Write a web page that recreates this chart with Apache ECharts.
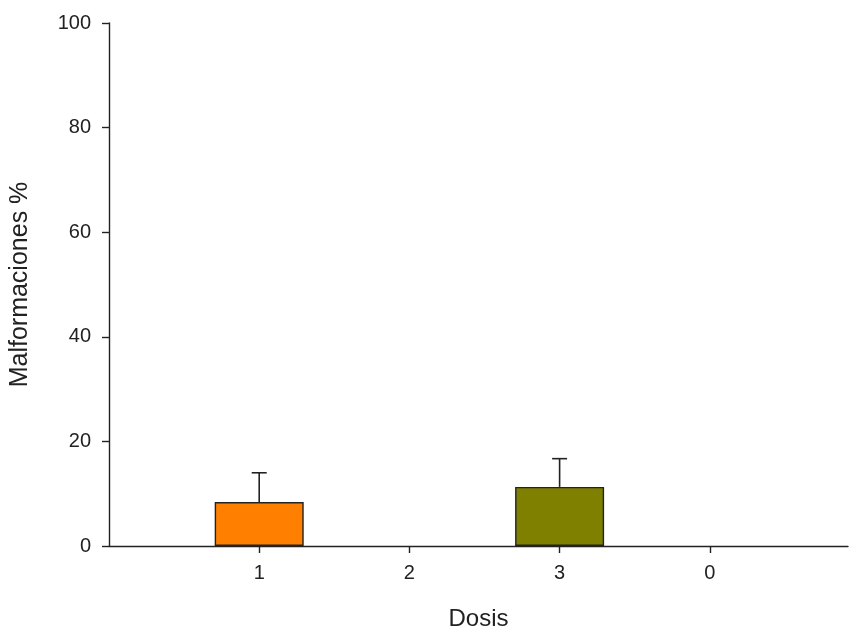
<!DOCTYPE html>
<html>
<head>
<meta charset="utf-8">
<script src="https://cdn.jsdelivr.net/npm/echarts@6/dist/echarts.min.js"></script>
<style>html,body{margin:0;padding:0;background:#fff;}#c{width:850px;height:632px;}</style>
</head>
<body>
<div id="c"></div>
<script>
// Data
var doseLabels = ['1', '2', '3', '0'];
var dosePositions = [1, 2, 3, 4];
var meanValues = [8.4, 0, 11.3, 0];
var errorValues = [5.6, 0, 5.4, 0];
var barColors = ['#FF8000', '#FF8000', '#7F7F00', '#7F7F00'];
var yTicks = [0, 20, 40, 60, 80, 100];

var barData = dosePositions.map(function (x, i) {
  return { value: [x, meanValues[i]], itemStyle: { color: barColors[i], opacity: meanValues[i] > 0 ? 1 : 0 } };
});
var errData = dosePositions.map(function (x, i) {
  return [x, meanValues[i], meanValues[i] + errorValues[i]];
}).filter(function (d) { return d[2] > d[1]; });

var FONT = 'Liberation Sans, Arial, sans-serif';
var chart = echarts.init(document.getElementById('c'), null, { renderer: 'canvas' });
chart.setOption({
  backgroundColor: '#fff',
  animation: false,
  grid: { left: 109, right: 2, top: 23, bottom: 86, containLabel: false, outerBoundsMode: 'none' },
  xAxis: {
    type: 'value',
    min: 0,
    max: 4.92,
    name: 'Dosis',
    nameLocation: 'middle',
    nameGap: 61,
    nameTextStyle: { fontFamily: FONT, fontSize: 24, color: '#222' },
    axisLine: { show: true, lineStyle: { color: '#222', width: 1.4 } },
    axisTick: { show: true, length: 7, lineStyle: { color: '#222', width: 1.4 }, customValues: dosePositions },
    axisLabel: {
      show: true, margin: 17, fontFamily: FONT, fontSize: 20, color: '#222',
      customValues: dosePositions,
      formatter: function (v) { var i = dosePositions.indexOf(v); return i >= 0 ? doseLabels[i] : ''; }
    },
    splitLine: { show: false }
  },
  yAxis: {
    type: 'value',
    min: 0,
    max: 100,
    interval: 20,
    name: 'Malformaciones %',
    nameLocation: 'middle',
    nameGap: 76,
    nameTextStyle: { fontFamily: FONT, fontSize: 25, color: '#222' },
    axisLine: { show: true, lineStyle: { color: '#222', width: 1.4 } },
    axisTick: { show: true, length: 7, lineStyle: { color: '#222', width: 1.4 } },
    axisLabel: {
      margin: 18, fontFamily: FONT, fontSize: 20, color: '#222',
      formatter: function (v) { return yTicks.indexOf(v) >= 0 ? String(v) : ''; }
    },
    splitLine: { show: false }
  },
  series: [
    {
      type: 'bar',
      data: barData,
      barWidth: 89,
      itemStyle: { borderColor: '#222', borderWidth: 1.4 },
      z: 2
    },
    {
      type: 'custom',
      data: errData,
      z: 3,
      renderItem: function (params, api) {
        var x = api.value(0);
        var p0 = api.coord([x, api.value(1)]);
        var p1 = api.coord([x, api.value(2)]);
        var half = 7.5;
        return {
          type: 'group',
          children: [
            { type: 'line', shape: { x1: p0[0], y1: p0[1], x2: p1[0], y2: p1[1] }, style: { stroke: '#222', lineWidth: 1.6 } },
            { type: 'line', shape: { x1: p1[0] - half, y1: p1[1], x2: p1[0] + half, y2: p1[1] }, style: { stroke: '#222', lineWidth: 1.6 } }
          ]
        };
      }
    }
  ]
});
</script>
</body>
</html>
